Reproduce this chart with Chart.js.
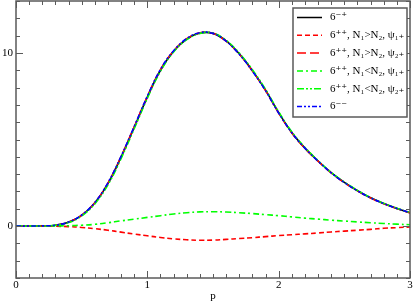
<!DOCTYPE html>
<html>
<head>
<meta charset="utf-8">
<script src="https://cdn.jsdelivr.net/npm/chart.js@4.4.1/dist/chart.umd.min.js"></script>
<style>
  html, body { margin: 0; padding: 0; background: #fff; }
  #wrap { width: 415px; height: 303px; }
</style>
</head>
<body>
<div id="wrap"><canvas id="chart"></canvas></div>
<script>
// p grid (0 .. 3, step 0.1)
const pValues = [0, 0.1, 0.2, 0.3, 0.4, 0.5, 0.6, 0.7, 0.8, 0.9, 1.0,
                 1.1, 1.2, 1.3, 1.4, 1.5, 1.6, 1.7, 1.8, 1.9, 2.0,
                 2.1, 2.2, 2.3, 2.4, 2.5, 2.6, 2.7, 2.8, 2.9, 3.0];

// 6-+ (black solid)
const sMinusPlus = [0, 0, 0.01, 0.05, 0.22, 0.62, 1.33, 2.45, 3.98, 5.7, 7.45,
                    9.0, 10.1, 10.8, 11.15, 11.13, 10.7, 9.95, 8.98, 7.85, 6.55,
                    5.4, 4.5, 3.76, 3.08, 2.52, 2.04, 1.63, 1.3, 1.02, 0.77];
// 6++, N1>N2, psi1+ (red short dash)
const sPP12psi1 = [0, 0, 0, -0.01, -0.03, -0.08, -0.15, -0.24, -0.35, -0.46, -0.56,
                   -0.66, -0.74, -0.79, -0.82, -0.81, -0.77, -0.72, -0.67, -0.61, -0.55,
                   -0.5, -0.45, -0.4, -0.34, -0.29, -0.24, -0.19, -0.13, -0.09, -0.05];
// 6++, N1>N2, psi2+ (red long dash)
const sPP12psi2 = [0, 0, 0.01, 0.05, 0.23, 0.63, 1.35, 2.48, 4.01, 5.73, 7.48,
                   9.03, 10.12, 10.82, 11.16, 11.13, 10.68, 9.93, 8.96, 7.83, 6.53,
                   5.38, 4.49, 3.75, 3.07, 2.51, 2.03, 1.62, 1.29, 1.01, 0.76];
// 6++, N1<N2, psi1+ (green dash-dot)
const sPP21psi1 = [0, 0, 0, 0.01, 0.02, 0.05, 0.1, 0.19, 0.3, 0.4, 0.5,
                   0.6, 0.7, 0.77, 0.82, 0.83, 0.81, 0.77, 0.72, 0.66, 0.6,
                   0.53, 0.46, 0.4, 0.34, 0.29, 0.24, 0.19, 0.15, 0.11, 0.08];
// 6++, N1<N2, psi2+ (green dash-dot-dot)
const sPP21psi2 = [0, 0, 0.01, 0.04, 0.2, 0.58, 1.28, 2.38, 3.9, 5.62, 7.38,
                   8.94, 10.06, 10.77, 11.13, 11.14, 10.73, 9.99, 9.03, 7.9, 6.6,
                   5.44, 4.54, 3.78, 3.1, 2.54, 2.06, 1.64, 1.31, 1.03, 0.78];
// 6-- (blue dash-dot-dot)
const sMinusMinus = [0, 0, 0.01, 0.05, 0.23, 0.64, 1.36, 2.5, 4.03, 5.75, 7.5,
                     9.05, 10.13, 10.83, 11.17, 11.13, 10.68, 9.92, 8.95, 7.82, 6.53,
                     5.39, 4.5, 3.75, 3.07, 2.51, 2.04, 1.63, 1.3, 1.02, 0.77];

const seriesLabels = ['6⁻⁺', '6⁺⁺, N₁>N₂, ψ₁₊', '6⁺⁺, N₁>N₂, ψ₂₊',
                      '6⁺⁺, N₁<N₂, ψ₁₊', '6⁺⁺, N₁<N₂, ψ₂₊', '6⁻⁻'];
const seriesData = [sMinusPlus, sPP12psi1, sPP12psi2, sPP21psi1, sPP21psi2, sMinusMinus];
const seriesColors = ['#000000', '#ff0000', '#ff0000', '#00ff00', '#00ff00', '#0000ff'];
const seriesDash = [[], [5, 3], [9, 4], [6, 3, 2, 3], [7, 2, 2, 2, 2, 2], [5, 2, 2, 2, 2, 2]];

const yMajorLabels = [0, 10];
const xMajorLabels = [0, 1, 2, 3];

const frameColor = '#5a5a5a';
const serif = "'Liberation Serif', 'DejaVu Serif', serif";

// frame + inward ticks on all four sides
const framePlugin = {
    id: 'frame',
    afterDraw(chart) {
        const { ctx, chartArea: a } = chart;
        const xs = chart.scales.x, ys = chart.scales.y;
        ctx.save();
        ctx.strokeStyle = frameColor;
        ctx.lineWidth = 1.5;
        ctx.strokeRect(a.left, a.top, a.right - a.left, a.bottom - a.top);
        ctx.lineWidth = 1;
        ctx.beginPath();
        xs.ticks.forEach(t => {
            const px = Math.round(xs.getPixelForValue(t.value)) + 0.5;
            const len = Math.abs(t.value - Math.round(t.value)) < 1e-6 ? 7 : 4;
            ctx.moveTo(px, a.bottom); ctx.lineTo(px, a.bottom - len);
            ctx.moveTo(px, a.top); ctx.lineTo(px, a.top + len);
        });
        ys.ticks.forEach(t => {
            const py = Math.round(ys.getPixelForValue(t.value)) + 0.5;
            const len = t.value % 10 === 0 ? 7 : 4;
            ctx.moveTo(a.left, py); ctx.lineTo(a.left + len, py);
            ctx.moveTo(a.right, py); ctx.lineTo(a.right - len, py);
        });
        ctx.stroke();
        ctx.restore();
    }
};

// boxed legend inside the plot, top right
const legendPlugin = {
    id: 'boxLegend',
    afterDraw(chart) {
        const { ctx } = chart;
        const x0 = 293, y0 = 8, w = 114, h = 109;
        ctx.save();
        ctx.fillStyle = '#fff';
        ctx.fillRect(x0, y0, w, h);
        ctx.strokeStyle = frameColor;
        ctx.lineWidth = 1.5;
        ctx.strokeRect(x0, y0, w, h);
        ctx.font = '11px ' + serif;
        ctx.textBaseline = 'middle';
        chart.data.datasets.forEach((ds, i) => {
            const y = 17.5 + i * 17.8;
            ctx.strokeStyle = ds.borderColor;
            ctx.lineWidth = 1.5;
            ctx.setLineDash(ds.borderDash);
            ctx.beginPath();
            ctx.moveTo(297, y); ctx.lineTo(322, y);
            ctx.stroke();
            ctx.setLineDash([]);
            ctx.fillStyle = '#000';
            ctx.fillText(ds.label, 330, y);
        });
        ctx.restore();
    }
};

new Chart(document.getElementById('chart'), {
    type: 'line',
    data: {
        datasets: seriesLabels.map((label, i) => ({
            label: label,
            data: pValues.map((p, j) => ({ x: p, y: seriesData[i][j] })),
            borderColor: seriesColors[i],
            borderDash: seriesDash[i],
            borderWidth: 1.6,
            pointRadius: 0,
            tension: 0.4,
            fill: false,
            order: seriesLabels.length - i
        }))
    },
    options: {
        responsive: true,
        maintainAspectRatio: false,
        animation: false,
        layout: { padding: { top: 1, right: 5, left: 0, bottom: 0 } },
        plugins: {
            legend: { display: false },
            tooltip: { enabled: false }
        },
        scales: {
            x: {
                type: 'linear',
                min: 0,
                max: 3,
                afterFit(scale) {
                    scale.height = 25;
                    scale.paddingLeft = 0;
                    scale.paddingRight = 0;
                },
                border: { display: false },
                grid: { display: false, drawTicks: false },
                ticks: {
                    stepSize: 0.1,
                    autoSkip: false,
                    maxRotation: 0,
                    padding: 1,
                    color: '#000',
                    font: { family: serif, size: 11 },
                    callback: v => xMajorLabels.find(m => Math.abs(m - v) < 1e-6) !== undefined ? String(Math.round(v)) : ''
                },
                title: {
                    display: true,
                    text: 'p',
                    color: '#000',
                    padding: { top: 0, bottom: 0 },
                    font: { family: serif, size: 11 }
                }
            },
            y: {
                type: 'linear',
                min: -3,
                max: 13,
                afterFit(scale) {
                    scale.width = 16;
                    scale.paddingTop = 0;
                    scale.paddingBottom = 0;
                },
                border: { display: false },
                grid: { display: false, drawTicks: false },
                ticks: {
                    stepSize: 1,
                    autoSkip: false,
                    padding: 3,
                    color: '#000',
                    font: { family: serif, size: 11 },
                    callback: v => yMajorLabels.includes(v) ? String(v) : ''
                }
            }
        }
    },
    plugins: [framePlugin, legendPlugin]
});
</script>
</body>
</html>
